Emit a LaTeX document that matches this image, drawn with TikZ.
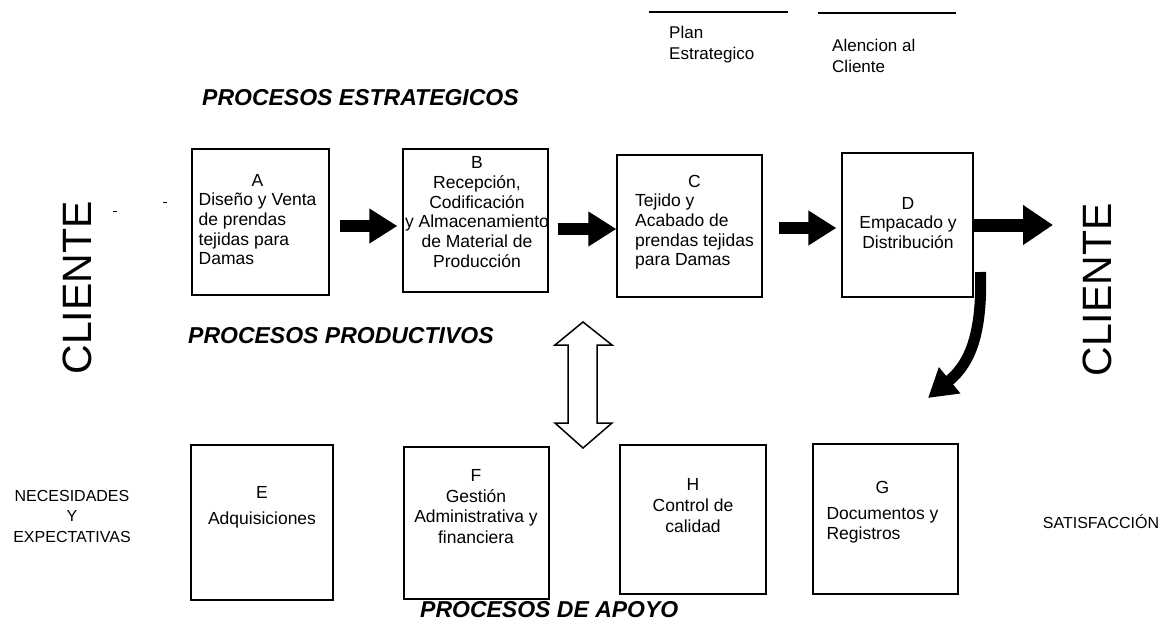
\documentclass[tikz,border=0pt]{standalone}
\usepackage{fontspec}
\setmainfont{Liberation Sans}
\usetikzlibrary{arrows.meta,calc}
\newcommand\mcol[1]{\multicolumn{1}{@{}c@{}}{#1}}
\begin{document}
\begin{tikzpicture}[x=1pt,y=-1pt,
  box/.style={draw,line width=1.2pt,inner sep=0pt},
  txt/.style={font=\fontsize{17.5}{19.7}\selectfont,inner sep=0pt,align=center},
  ltxt/.style={font=\fontsize{17.5}{20.7}\selectfont,inner sep=0pt,align=center},
  small/.style={font=\fontsize{17}{21}\selectfont,inner sep=0pt,align=left,anchor=west},
  side/.style={font=\fontsize{16}{20.5}\selectfont,inner sep=0pt,align=center},
  head/.style={font=\fontsize{23}{26}\selectfont\bfseries\itshape,inner sep=0pt,anchor=west},
  cli/.style={font=\fontsize{41}{45}\selectfont,rotate=90,inner sep=0pt},
  blockarr/.style={line width=12pt,line cap=butt,-{Triangle[length=28pt,width=33pt]}},
  bigarr/.style={line width=13pt,line cap=butt,-{Triangle[length=30pt,width=38pt]}},
  rule/.style={line width=1.5pt}]
\fill[white] (0,0) rectangle (1165,623);
\useasboundingbox (0,0) rectangle (1165,623);

% top labels
\draw[rule] (649,12) -- (788,12);
\draw[rule] (818,13) -- (956,13);
\node[small] (plan) at (669,44.5) {Plan\\Estrategico};
\node[small] (aten) at (832,55.5) {Alencion al\\Cliente};

% headings
\node[head] (hest) at (202,98) {PROCESOS ESTRATEGICOS};
\node[head] (hpro) at (188,336) {PROCESOS PRODUCTIVOS};
\node[head] (hapo) at (420,610) {PROCESOS DE APOYO};

% CLIENTE
\node[cli] (cl1) at (77,288) {CLIENTE};
\node[cli] (cl2) at (1097,290) {CLIENTE};
\node[side] (nec) at (72,516) {NECESIDADES\\Y\\EXPECTATIVAS};
\node[side] (sat) at (1101,522) {SATISFACCIÓN};

% small marks
\draw[line width=1pt] (113,211) -- (117,211);
\draw[line width=1pt] (163,202) -- (167,202);

% boxes
\node[box,minimum width=137pt,minimum height=146pt] (A) at (260.5,222) {};
\node[box,minimum width=145pt,minimum height=143pt] (B) at (475.5,220.5) {};
\node[box,minimum width=145pt,minimum height=142pt] (C) at (689.5,226) {};
\node[box,minimum width=131pt,minimum height=144pt] (D) at (907.5,225) {};
\node[box,minimum width=142pt,minimum height=155pt] (E) at (262,522.5) {};
\node[box,minimum width=145pt,minimum height=152pt] (F) at (476.5,523) {};
\node[box,minimum width=146pt,minimum height=149pt] (H) at (693,519.5) {};
\node[box,minimum width=145pt,minimum height=150pt] (G) at (885.5,519) {};

% box texts
\node[txt] (At) at (257.5,221.5) {\begin{tabular}{@{}l@{}}\mcol{A}\\Diseño y Venta\\de prendas\\tejidas para\\Damas\end{tabular}};
\node[txt] (Bt) at (477,212) {B\\Recepción,\\Codificación\\y Almacenamiento\\de Material de\\Producción};
\node[txt] (Ct) at (694.5,222.5) {\begin{tabular}{@{}l@{}}\mcol{C}\\Tejido y\\Acabado de\\prendas tejidas\\para Damas\end{tabular}};
\node[txt] (Dt) at (908,223) {D\\Empacado y\\Distribución};
\node[ltxt] (Et) at (262,507.5) {E\\[5pt]Adquisiciones};
\node[ltxt] (Ft) at (476,506.5) {F\\Gestión\\Administrativa y\\financiera};
\node[ltxt] (Ht) at (693,505.5) {H\\Control de\\calidad};
\node[ltxt] (Gt) at (882.5,512.5) {\begin{tabular}{@{}l@{}}\mcol{G}\\[5pt]Documentos y\\Registros\end{tabular}};

% flow arrows
\draw[blockarr] ($(A.east)+(10,4)$) -- ($(B.west)+(-5,5.5)$);
\draw[blockarr] ($(B.east)+(9,8.5)$) -- ($(C.west)+(0,3)$);
\draw[blockarr] ($(C.east)+(16,2)$) -- ($(D.west)+(-5,3)$);
\coordinate (out) at (1053,225);
\draw[bigarr] (D.east) -- (out);

% curved arrow
\coordinate (cs) at ($(D.east)+(7,47)$);
\coordinate (ctip) at (928,398);
\draw[line width=11pt,line cap=butt,-{Triangle[length=28pt,width=32pt]}]
  (cs) .. controls (982,330) and (972,362) .. (ctip);

% double arrow
\draw[line width=1.5pt,fill=white,line join=miter]
  (583,322) -- (555,345) -- (568,345) -- (568,423) -- (555,423) -- (583,448)
  -- (612,423) -- (597,423) -- (597,345) -- (612,345) -- cycle;
\end{tikzpicture}
\end{document}
